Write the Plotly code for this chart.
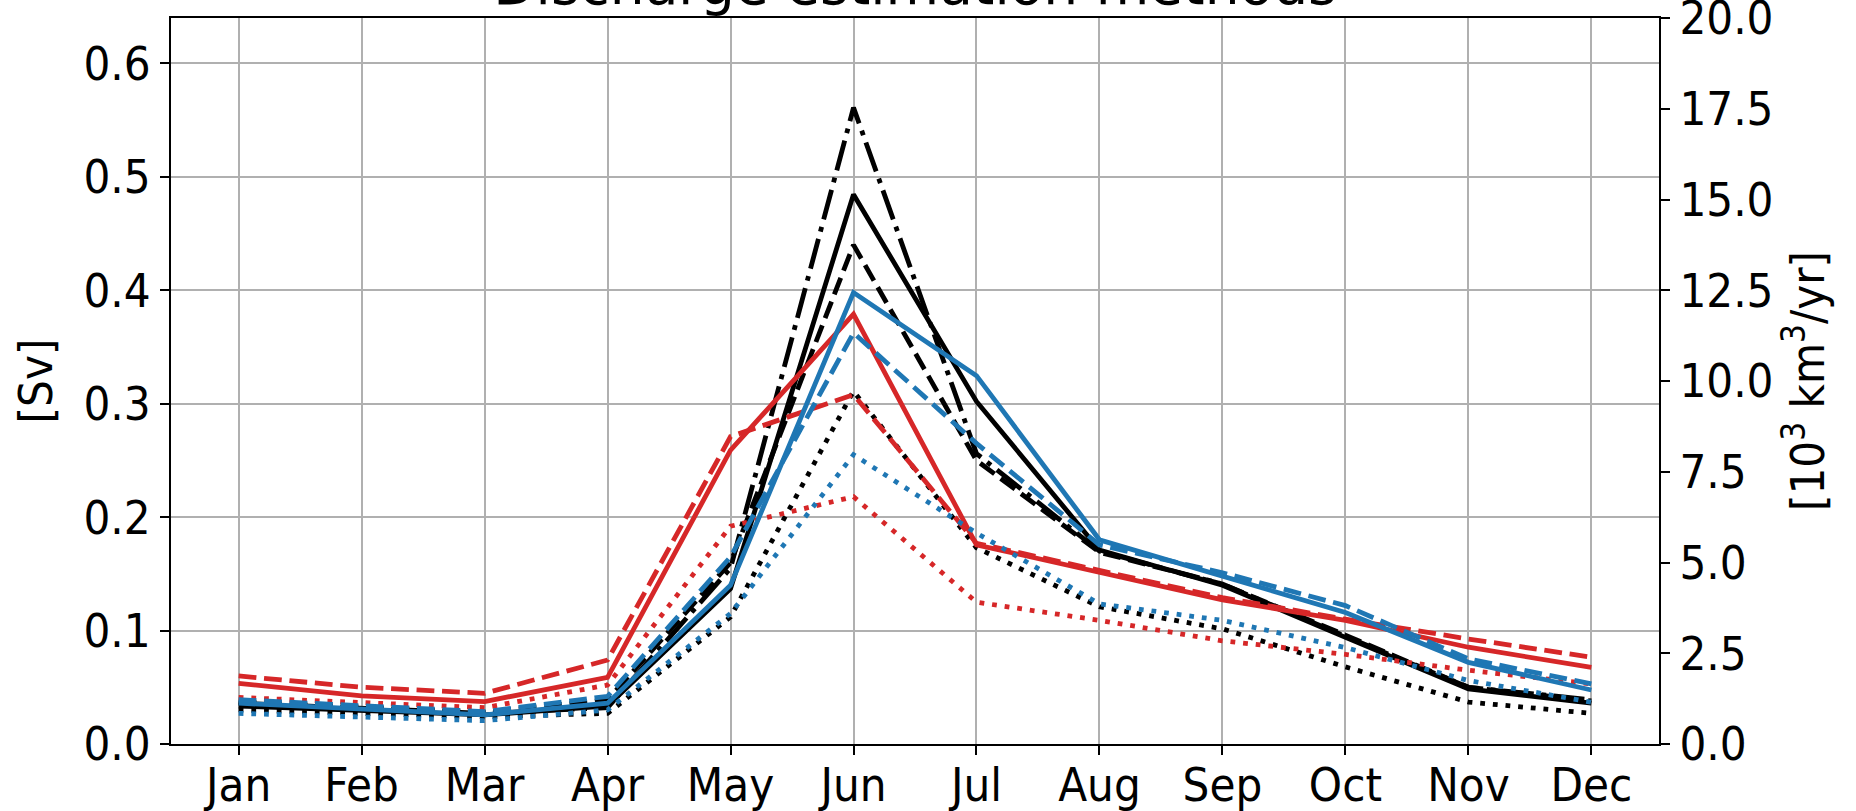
import plotly.graph_objects as go

months = ['Jan', 'Feb', 'Mar', 'Apr', 'May', 'Jun', 'Jul', 'Aug', 'Sep', 'Oct', 'Nov', 'Dec']

black_solid = [0.0335, 0.0295, 0.0256, 0.0335, 0.137, 0.4845, 0.302, 0.171, 0.140, 0.094, 0.0485, 0.036]
black_dashed = [0.037, 0.032, 0.028, 0.039, 0.160, 0.440, 0.250, 0.169, 0.141, 0.096, 0.050, 0.038]
black_dotted = [0.030, 0.027, 0.024, 0.027, 0.112, 0.311, 0.173, 0.121, 0.1015, 0.068, 0.037, 0.027]
black_dashdot = [0.036, 0.031, 0.027, 0.032, 0.155, 0.561, 0.256, 0.170, 0.141, 0.095, 0.050, 0.039]

red_solid = [0.0535, 0.0424, 0.0374, 0.0588, 0.259, 0.379, 0.1756, 0.151, 0.127, 0.109, 0.0853, 0.0676]
red_dashed = [0.060, 0.050, 0.0447, 0.074, 0.271, 0.308, 0.177, 0.153, 0.129, 0.110, 0.0926, 0.0765]
red_dotted = [0.041, 0.037, 0.032, 0.052, 0.192, 0.218, 0.125, 0.109, 0.091, 0.079, 0.065, 0.053]

blue_solid = [0.036, 0.0306, 0.0256, 0.036, 0.140, 0.398, 0.3247, 0.180, 0.1485, 0.116, 0.072, 0.0476]
blue_dashed = [0.039, 0.0335, 0.0285, 0.042, 0.165, 0.3624, 0.265, 0.1755, 0.151, 0.122, 0.075, 0.053]
blue_dotted = [0.027, 0.0235, 0.0206, 0.030, 0.115, 0.255, 0.186, 0.1235, 0.109, 0.085, 0.056, 0.0368]

left_ticks = [0.0, 0.1, 0.2, 0.3, 0.4, 0.5, 0.6]
right_ticks = [0.0, 2.5, 5.0, 7.5, 10.0, 12.5, 15.0, 17.5, 20.0]

BLACK = '#000000'
RED = '#d62728'
BLUE = '#1f77b4'
LW = 4.8
DASHES = {
    'solid': 'solid',
    'dashed': '17.8px,7.7px',
    'dotted': '4.8px,7.9px',
    'dashdot': '30.7px,7.7px,4.8px,7.7px',
}

series = [
    (black_solid, BLACK, 'solid'),
    (black_dashed, BLACK, 'dashed'),
    (black_dotted, BLACK, 'dotted'),
    (black_dashdot, BLACK, 'dashdot'),
    (red_solid, RED, 'solid'),
    (red_dashed, RED, 'dashed'),
    (red_dotted, RED, 'dotted'),
    (blue_solid, BLUE, 'solid'),
    (blue_dashed, BLUE, 'dashed'),
    (blue_dotted, BLUE, 'dotted'),
]

x = list(range(len(months)))
FONT = 'DejaVu Sans Condensed, DejaVu Sans'
FS = 47

fig = go.Figure()
for vals, color, style in series:
    fig.add_trace(go.Scatter(
        x=x, y=vals, mode='lines',
        line=dict(color=color, width=LW, dash=DASHES[style]),
        showlegend=False, hoverinfo='skip',
    ))

# invisible trace to activate the right axis
fig.add_trace(go.Scatter(x=[x[0]], y=[0], yaxis='y2', mode='markers',
                         marker=dict(opacity=0), showlegend=False, hoverinfo='skip'))

fig.update_layout(
    width=1856, height=811,
    paper_bgcolor='white', plot_bgcolor='white',
    margin=dict(l=171, r=197, t=18, b=67, pad=0, autoexpand=False),
    font=dict(family=FONT, size=FS, color='black'),
    title=dict(text='Discharge estimation methods', x=0.493, xanchor='center',
               y=1 - 4 / 811, yanchor='bottom', yref='container',
               font=dict(family='DejaVu Sans', size=55, color='black')),
    xaxis=dict(
        range=[-0.55, 11.55], tickmode='array', tickvals=x, ticktext=months,
        showgrid=True, gridcolor='#b0b0b0', gridwidth=1.6,
        showline=True, linecolor='black', linewidth=2, mirror=True,
        ticks='outside', ticklen=9, tickwidth=2, tickcolor='black',
        tickfont=dict(family=FONT, size=FS), zeroline=False,
        automargin=False, ticklabeloverflow='allow', ticklabelstandoff=-10,
    ),
    yaxis=dict(
        range=[0, 0.64], tickmode='array', tickvals=left_ticks,
        ticktext=[f'{v:.1f}' for v in left_ticks],
        showgrid=True, gridcolor='#b0b0b0', gridwidth=1.6,
        showline=True, linecolor='black', linewidth=2, mirror=True,
        ticks='outside', ticklen=9, tickwidth=2, tickcolor='black',
        tickfont=dict(family=FONT, size=FS), zeroline=False,
        title=dict(text='[Sv]', font=dict(family=FONT, size=FS), standoff=16),
        automargin=False, ticklabeloverflow='allow',
    ),
    yaxis2=dict(
        range=[0, 20], overlaying='y', side='right', tickmode='array',
        tickvals=right_ticks, ticktext=[f'{v:.1f}' for v in right_ticks],
        showgrid=False, showline=True, linecolor='black', linewidth=2,
        ticks='outside', ticklen=9, tickwidth=2, tickcolor='black',
        tickfont=dict(family=FONT, size=FS), zeroline=False,
        title=dict(text='[10<sup>3</sup> km<sup>3</sup>/yr]', font=dict(family=FONT, size=FS), standoff=12),
        automargin=False, ticklabeloverflow='allow',
    ),
)

fig.write_html('out.html', config={'displayModeBar': False},
               post_script="document.body.style.margin='0px';document.body.style.overflow='hidden';")
